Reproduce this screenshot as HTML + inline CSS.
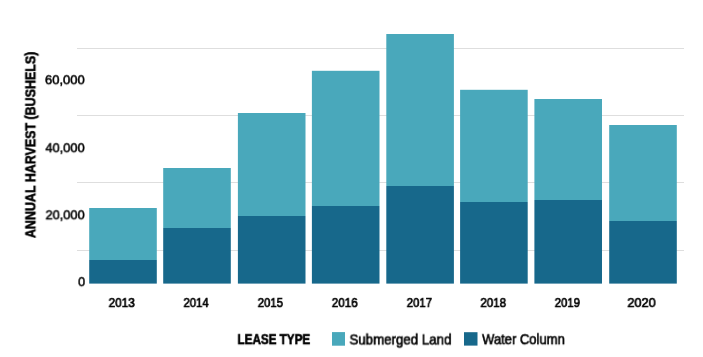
<!DOCTYPE html>
<html><head><meta charset="utf-8">
<style>
html,body{margin:0;padding:0;background:#fff;}
body{width:703px;height:357px;position:relative;overflow:hidden;font-family:"Liberation Sans",sans-serif;color:#000;}
svg{position:absolute;left:0;top:0;}
.t{position:absolute;white-space:nowrap;line-height:1;transform-origin:0 0;left:0;top:0;will-change:transform;}

</style></head><body>
<svg width="703" height="357" viewBox="0 0 703 357">
<g fill="#dedede"><rect x="77" y="48" width="607" height="1"/><rect x="77" y="115" width="607" height="1"/><rect x="77" y="182" width="607" height="1"/><rect x="77" y="250" width="607" height="1"/></g><g fill="#49a8bb"><rect x="89.2" y="208.0" width="67.6" height="52.00"/><rect x="163.2" y="168.0" width="67.6" height="60.00"/><rect x="237.9" y="113.0" width="67.6" height="103.00"/><rect x="311.9" y="70.8" width="67.6" height="135.20"/><rect x="386.3" y="34.0" width="67.6" height="152.00"/><rect x="460.1" y="89.8" width="67.6" height="112.20"/><rect x="534.4" y="99.0" width="67.6" height="101.00"/><rect x="609.2" y="125.0" width="67.6" height="96.00"/></g><g fill="#17688b"><rect x="89.2" y="260.0" width="67.6" height="23.60"/><rect x="163.2" y="228.0" width="67.6" height="55.60"/><rect x="237.9" y="216.0" width="67.6" height="67.60"/><rect x="311.9" y="206.0" width="67.6" height="77.60"/><rect x="386.3" y="186.0" width="67.6" height="97.60"/><rect x="460.1" y="202.0" width="67.6" height="81.60"/><rect x="534.4" y="200.0" width="67.6" height="83.60"/><rect x="609.2" y="221.0" width="67.6" height="62.60"/></g><rect x="332" y="332.1" width="13" height="13.6" fill="#49a8bb"/><rect x="464" y="332.2" width="13.5" height="13.4" fill="#17688b"/></svg>
<div class="t" style="font-size:13px;font-weight:normal;-webkit-text-stroke:0.55px #000;transform:translate(44.97px,73.24px) scale(0.9992,1.0314)">60,000</div>
<div class="t" style="font-size:13px;font-weight:normal;-webkit-text-stroke:0.55px #000;transform:translate(45.40px,141.25px) scale(0.9886,1.0391)">40,000</div>
<div class="t" style="font-size:13px;font-weight:normal;-webkit-text-stroke:0.55px #000;transform:translate(45.51px,208.30px) scale(0.9858,1.0048)">20,000</div>
<div class="t" style="font-size:13px;font-weight:normal;-webkit-text-stroke:0.55px #000;transform:translate(78.17px,275.19px) scale(0.9502,1.0168)">0</div>
<div class="t" style="font-size:13px;font-weight:normal;-webkit-text-stroke:0.7px #000;transform:translate(108.60px,296.04px) scale(0.9032,1.0365)">2013</div>
<div class="t" style="font-size:13px;font-weight:normal;-webkit-text-stroke:0.7px #000;transform:translate(183.51px,296.04px) scale(0.8662,1.0365)">2014</div>
<div class="t" style="font-size:13px;font-weight:normal;-webkit-text-stroke:0.7px #000;transform:translate(257.71px,296.04px) scale(0.8719,1.0365)">2015</div>
<div class="t" style="font-size:13px;font-weight:normal;-webkit-text-stroke:0.7px #000;transform:translate(331.80px,296.04px) scale(0.8933,1.0365)">2016</div>
<div class="t" style="font-size:13px;font-weight:normal;-webkit-text-stroke:0.7px #000;transform:translate(406.70px,296.04px) scale(0.8724,1.0365)">2017</div>
<div class="t" style="font-size:13px;font-weight:normal;-webkit-text-stroke:0.7px #000;transform:translate(480.40px,296.04px) scale(0.8851,1.0365)">2018</div>
<div class="t" style="font-size:13px;font-weight:normal;-webkit-text-stroke:0.7px #000;transform:translate(554.70px,296.04px) scale(0.8724,1.0365)">2019</div>
<div class="t" style="font-size:13px;font-weight:normal;-webkit-text-stroke:0.7px #000;transform:translate(627.38px,296.04px) scale(0.9758,1.0365)">2020</div>
<div class="t" style="font-size:14px;font-weight:bold;-webkit-text-stroke:0.6px #000;transform:translate(237.50px,332.20px) scale(0.8347,1.0284)">LEASE TYPE</div>
<div class="t" style="font-size:14px;font-weight:normal;-webkit-text-stroke:0.6px #000;transform:translate(349.46px,331.56px) scale(0.9493,1.0833)">Submerged Land</div>
<div class="t" style="font-size:14px;font-weight:normal;-webkit-text-stroke:0.6px #000;transform:translate(482.10px,332.23px) scale(0.9290,1.0093)">Water Column</div>
<div class="t" style="font-size:15px;font-weight:bold;-webkit-text-stroke:0.6px #000;transform:translate(22.40px,238.05px) rotate(-90deg) scale(0.8302,1.0189)">ANNUAL HARVEST (BUSHELS)</div>
</body></html>
